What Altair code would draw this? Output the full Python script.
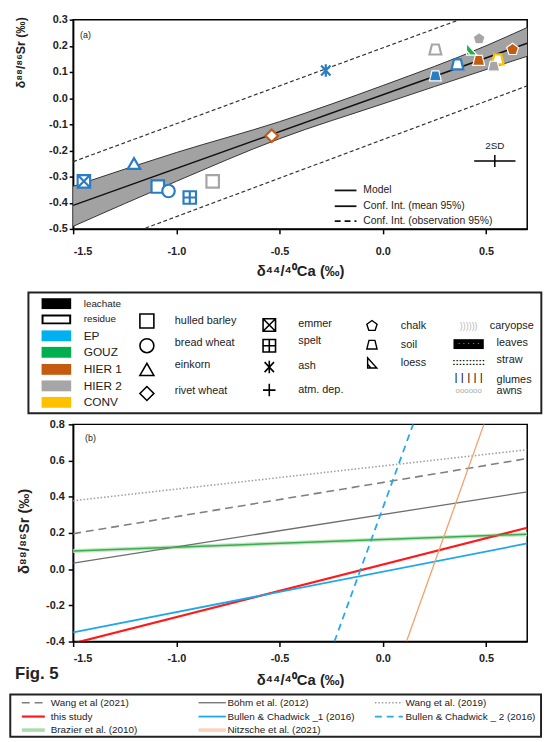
import altair as alt
import pandas as pd

FONT = "Liberation Sans"
INK = "#222222"

# ---------------- panel (a) data ----------------
A_BAND_X = [-1.5, -1.0, -0.5, 0.0, 0.5, 0.7]
A_BAND_LO = [-0.49, -0.318, -0.155, -0.022, 0.109, 0.16]
A_BAND_HI = [-0.337, -0.208, -0.09, 0.048, 0.2, 0.27]
A_LINE_X = [-1.5, 0.7]
A_MODEL_Y = [-0.41, 0.21]
A_OBS_HI_Y = [-0.243, 0.395]
A_OBS_LO_Y = [-0.60, 0.047]

PT_X = [-1.448, -1.205, -1.09, -1.038, -0.935, -0.824, -0.538, -0.276, 0.255, 0.255,
        0.362, 0.43, 0.467, 0.465, 0.557, 0.538, 0.629]
PT_Y = [-0.318, -0.25, -0.338, -0.355, -0.38, -0.318, -0.144, 0.106, 0.186, 0.085,
        0.129, 0.186, 0.227, 0.144, 0.148, 0.122, 0.186]
PT_TYPE = ["emmer", "einkorn", "hulled barley", "bread wheat", "spelt", "hulled barley",
           "rivet wheat", "ash", "soil", "soil", "soil", "loess", "chalk", "soil", "soil",
           "soil", "chalk"]
PT_SITE = ["EP", "EP", "EP", "EP", "EP", "HIER 2", "HIER 1", "EP", "HIER 2", "EP", "EP",
           "GOUZ", "HIER 2", "HIER 1", "CONV", "HIER 2", "HIER 1"]
PT_FRAC = ["residue", "residue", "residue", "residue", "residue", "residue", "residue",
           "residue", "residue", "leachate", "residue", "leachate", "leachate", "leachate",
           "residue", "leachate", "leachate"]

SD_X = [0.543]
SD_Y = [-0.24]
SD_DX = [0.1]
SD_DY = [0.023]

X_TICKS = [-1.5, -1.0, -0.5, 0.0, 0.5]
YA_TICKS = [-0.5, -0.4, -0.3, -0.2, -0.1, 0.0, 0.1, 0.2, 0.3]
YB_TICKS = [-0.4, -0.2, 0.0, 0.2, 0.4, 0.6, 0.8]
X_TITLE = "δ⁴⁴/⁴⁰Ca (‰)"
Y_TITLE = "δ⁸⁸/⁸⁶Sr (‰)"

# ---------------- panel (b) data ----------------
B_SERIES = ["Wang et al (2021)", "Böhm et al. (2012)", "Wang et al. (2019)", "this study",
            "Bullen & Chadwick _1 (2016)", "Bullen & Chadwick _ 2 (2016)",
            "Brazier et al. (2010)", "Nitzsche et al. (2021)"]
B_X0 = [-1.5, -1.5, -1.5, -1.5, -1.5, -0.234, -1.5, 0.115]
B_Y0 = [0.196, 0.033, 0.378, -0.41, -0.349, -0.4, 0.10, -0.4]
B_X1 = [0.7, 0.7, 0.7, 0.7, 0.7, 0.147, 0.7, 0.49]
B_Y1 = [0.611, 0.427, 0.66, 0.229, 0.142, 0.8, 0.193, 0.8]

# ---------------- legend contents ----------------
SITES = ["EP", "GOUZ", "HIER 1", "HIER 2", "CONV"]
SITE_PT_COLORS = ["#2a7cc4", "#1fae4b", "#c55a11", "#a6a6a6", "#ffc000"]
SW_LABELS = ["leachate", "residue", "EP", "GOUZ", "HIER 1", "HIER 2", "CONV"]
SW_COLORS = ["#000000", "#ffffff", "#00b0f0", "#00b050", "#c55a11", "#a6a6a6", "#ffc000"]
COL2 = ["hulled barley", "bread wheat", "einkorn", "rivet wheat"]
COL3 = ["emmer", "spelt", "ash", "atm. dep."]
COL4 = ["chalk", "soil", "loess"]
COL5 = ["caryopse", "leaves", "straw", "glumes", "awns"]
A_LEG = ["Model", "Conf. Int. (mean 95%)", "Conf. Int. (observation 95%)"]

EMMER = "M-1,-1L1,-1L1,1L-1,1Z M-1,-1L1,1 M1,-1L-1,1"
SPELT = "M-1,-1L1,-1L1,1L-1,1Z M0,-1L0,1 M-1,0L1,0"
ASH = "M0,-1L0,1 M-0.75,-0.8L0.75,0.8 M0.75,-0.8L-0.75,0.8"
PLUS = "M0,-1L0,1 M-1,0L1,0"
PENT = "M0,-1L0.95,-0.31L0.59,0.81L-0.59,0.81L-0.95,-0.31Z"
TRAP = "M-0.55,-0.8L0.55,-0.8L0.95,0.8L-0.95,0.8Z"
LOESS = "M-0.8,-1L-0.8,0.9L0.9,0.9Z M-0.8,0.2L-0.2,0.9"
TYPES = ["hulled barley", "bread wheat", "einkorn", "rivet wheat", "emmer", "spelt", "ash",
         "atm. dep.", "chalk", "soil", "loess"]
SHAPES = ["square", "circle", "triangle-up", "diamond", EMMER, SPELT, ASH, PLUS, PENT, TRAP, LOESS]
SHAPE_OF = dict(zip(TYPES, SHAPES))

ONE = pd.DataFrame({"k": [0]})


def vtext(x, y, s, size=10, color=INK, weight="normal", align="left"):
    return alt.Chart(ONE).mark_text(text=s, fontSize=size, color=color, fontWeight=weight,
                                    align=align, baseline="middle", font=FONT).encode(
        x=alt.value(x), y=alt.value(y))


def vrule(x1, x2, y, color, width=1.5, dash=None):
    kw = dict(color=color, strokeWidth=width)
    if dash:
        kw["strokeDash"] = dash
    return alt.Chart(ONE).mark_rule(**kw).encode(x=alt.value(x1), x2=alt.value(x2), y=alt.value(y))


def vrect(x1, x2, y1, y2, fill, stroke=None, sw=0, fo=1):
    kw = dict(fill=fill, fillOpacity=fo)
    if stroke:
        kw.update(stroke=stroke, strokeWidth=sw)
    return alt.Chart(ONE).mark_rect(**kw).encode(x=alt.value(x1), x2=alt.value(x2),
                                                 y=alt.value(y1), y2=alt.value(y2))


def vsym(x, y, shape, size, stroke="black", sw=1.5):
    return alt.Chart(ONE).mark_point(shape=shape, size=size, stroke=stroke, strokeWidth=sw,
                                     filled=False, opacity=1).encode(x=alt.value(x), y=alt.value(y))


LBL = "replace(format(datum.value, '.1f'), '\u2212', '-')"
xs = alt.Scale(domain=[-1.5, 0.7], nice=False, zero=False)

# ================= panel (a) =================
ysa = alt.Scale(domain=[-0.5, 0.3], nice=False, zero=False)
ax_ax = alt.Axis(values=X_TICKS, labelExpr=LBL, title=X_TITLE, tickSize=5, labelPadding=12,
                 titleY=42, titleBaseline="middle")
ax_ay = alt.Axis(values=YA_TICKS, labelExpr=LBL, title=Y_TITLE, tickSize=4, labelPadding=2,
                 titleX=-53, titleY=33, titleBaseline="middle", titleAlign="center",
                 titleFontSize=12.5)


def XA(f):
    return alt.X(f, type="quantitative", scale=xs, axis=ax_ax)


def YA(f):
    return alt.Y(f, type="quantitative", scale=ysa, axis=ax_ay)


band_df = pd.DataFrame({"x": A_BAND_X, "lo": A_BAND_LO, "hi": A_BAND_HI})
line_df = pd.DataFrame({"x": A_LINE_X, "m": A_MODEL_Y, "oh": A_OBS_HI_Y, "ol": A_OBS_LO_Y})
pts_df = pd.DataFrame({"x": PT_X, "y": PT_Y, "type": PT_TYPE, "site": PT_SITE, "frac": PT_FRAC})
sd_df = pd.DataFrame({"x": SD_X, "y": SD_Y, "dx": SD_DX, "dy": SD_DY})

shape_scale = alt.Scale(domain=TYPES, range=SHAPES)
site_scale = alt.Scale(domain=SITES, range=SITE_PT_COLORS)

a_layers = [
    alt.Chart(band_df).mark_area(color="#a2a2a2", opacity=1, interpolate="monotone").encode(
        x=XA("x"), y=YA("lo"), y2="hi:Q"),
    alt.Chart(band_df).mark_line(color="#333333", strokeWidth=1, interpolate="monotone").encode(
        x=XA("x"), y=YA("lo")),
    alt.Chart(band_df).mark_line(color="#333333", strokeWidth=1, interpolate="monotone").encode(
        x=XA("x"), y=YA("hi")),
    alt.Chart(line_df).mark_line(color="#111111", strokeWidth=1.5).encode(x=XA("x"), y=YA("m")),
    alt.Chart(line_df).mark_line(color="#333333", strokeWidth=1.2, strokeDash=[4, 2.5], clip=True).encode(
        x=XA("x"), y=YA("oh")),
    alt.Chart(line_df).mark_line(color="#333333", strokeWidth=1.2, strokeDash=[4, 2.5], clip=True).encode(
        x=XA("x"), y=YA("ol")),
    alt.Chart(pts_df).transform_filter("datum.frac == 'residue'").mark_point(
        filled=True, fill="white", strokeWidth=2.2, size=160, opacity=1).encode(
        x=XA("x"), y=YA("y"),
        shape=alt.Shape("type:N", scale=shape_scale, legend=None),
        stroke=alt.Stroke("site:N", scale=site_scale, legend=None)),
    alt.Chart(pts_df).transform_filter("datum.frac == 'leachate'").mark_point(
        filled=True, stroke="white", strokeWidth=1.2, size=160, opacity=1).encode(
        x=XA("x"), y=YA("y"),
        shape=alt.Shape("type:N", scale=shape_scale, legend=None),
        fill=alt.Fill("site:N", scale=site_scale, legend=None)),
    alt.Chart(sd_df).transform_calculate(x1="datum.x - datum.dx", x2="datum.x + datum.dx").mark_rule(
        color="black", strokeWidth=1.5).encode(x=XA("x1:Q"), x2="x2:Q", y=YA("y")),
    alt.Chart(sd_df).transform_calculate(y1="datum.y - datum.dy", y2="datum.y + datum.dy").mark_rule(
        color="black", strokeWidth=1.5).encode(x=XA("x"), y=YA("y1:Q"), y2="y2:Q"),
    alt.Chart(sd_df).mark_text(text="2SD", dy=-15, fontSize=10, font=FONT, color=INK).encode(
        x=XA("x"), y=YA("y")),
    vtext(7, 16, "(a)", size=9),
]
leg_y = [173, 189, 204]
leg_dash = [None, None, [6, 4]]
leg_w = [1.8, 1.8, 1.8]
for lab, yy, dd, ww in zip(A_LEG, leg_y, leg_dash, leg_w):
    a_layers.append(vrule(265, 287, yy, "#111111", ww, dd))
    a_layers.append(vtext(294, yy, lab, size=10.5))

A = alt.layer(*a_layers).properties(width=460, height=212)

# ================= legend box =================
l_layers = [vrect(-45.3, 474.3, 64.3, 186.7, "white", "#222222", 2, fo=0)]
sw_y = [75.7, 91.7, 108.3, 125, 142.3, 159, 175.7]
for i, (lab, col, yy) in enumerate(zip(SW_LABELS, SW_COLORS, sw_y)):
    if lab == "residue":
        l_layers.append(vrect(-31, -3, yy - 4, yy + 4, col, "black", 2))
    else:
        l_layers.append(vrect(-32, -2, yy - 5.5, yy + 5.5, col))
    l_layers.append(vtext(10.7, yy, lab, size=10 if i < 2 else 12))

c2_sym_y = [93.3, 118.3, 142.3, 166.7]
c2_lab_y = [93, 116, 138.3, 164.3]
for lab, sy, ly in zip(COL2, c2_sym_y, c2_lab_y):
    l_layers.append(vsym(74.7, sy, SHAPE_OF[lab], 200, sw=1.6))
    l_layers.append(vtext(103, ly, lab, size=11))

c3_sym_y = [97.3, 118.3, 140, 163.3]
c3_lab_y = [96, 114, 139.3, 163.3]
for lab, sy, ly in zip(COL3, c3_sym_y, c3_lab_y):
    l_layers.append(vsym(198.7, sy, SHAPE_OF[lab], 160, sw=1.6))
    l_layers.append(vtext(228, ly, lab, size=11))

c4_y = [98.3, 117.3, 136]
for lab, yy in zip(COL4, c4_y):
    l_layers.append(vsym(302.7, yy, SHAPE_OF[lab], 120, sw=1.4))
    l_layers.append(vtext(332, yy, lab, size=11))

c5_sw_y = [98.3, 116.7, 135, 150.3, 164.3]
c5_lab_y = [98.3, 116, 133.3, 152.7, 164.3]
c5_lab_x = [422, 429, 429, 429, 429]
l_layers += [
    vtext(400.7, c5_sw_y[0], "))))))", size=9, color="#bbbbbb", align="center"),
    vrect(385.3, 416, c5_sw_y[1] - 5, c5_sw_y[1] + 5, "black"),
    vtext(400.7, c5_sw_y[1], "· · · · ·", size=8, color="#dddddd", align="center"),
    vtext(400.7, c5_sw_y[2], "::::::::::", size=10, color="black", weight="bold", align="center"),
    vtext(400.7, c5_sw_y[3], "| | | | |", size=12, color="#111111", align="center"),
    vtext(400.7, c5_sw_y[4], "oooooo", size=8, color="#aaaaaa", align="center"),
]
for lab, xx, yy in zip(COL5, c5_lab_x, c5_lab_y):
    l_layers.append(vtext(xx, yy, lab, size=11))

L = alt.layer(*l_layers).properties(width=460, height=198,
                                    view=alt.ViewBackground(stroke="transparent"))

# ================= panel (b) =================
ysb = alt.Scale(domain=[-0.4, 0.8], nice=False, zero=False)
ax_bx = alt.Axis(values=X_TICKS, labelExpr=LBL, title=X_TITLE, tickSize=5, labelPadding=6.5,
                 titleY=39, titleBaseline="middle")
ax_by = alt.Axis(values=YB_TICKS, labelExpr=LBL, title=Y_TITLE, tickSize=5, labelPadding=4,
                 titleX=-50, titleY=108, titleBaseline="middle", titleAlign="center")

B_STYLE = {
    "Wang et al (2021)": ("#7f7f7f", 1.6, [8, 5]),
    "Böhm et al. (2012)": ("#6e6e6e", 1.3, None),
    "Wang et al. (2019)": ("#a0a0a0", 1.6, [1.5, 2]),
    "this study": ("#ff1a1a", 2.2, None),
    "Bullen & Chadwick _1 (2016)": ("#1ea7ec", 1.8, None),
    "Bullen & Chadwick _ 2 (2016)": ("#22aaf0", 1.8, [7, 5]),
    "Brazier et al. (2010)": ("#3aad4e", 1.5, None),
    "Nitzsche et al. (2021)": ("#f4a06c", 1.3, None),
}
LEG_COLOR = {
    "Brazier et al. (2010)": "#a9dca9",
    "Nitzsche et al. (2021)": "#f9d2bc",
}

rows = []
for s, x0, y0, x1, y1 in zip(B_SERIES, B_X0, B_Y0, B_X1, B_Y1):
    rows.append({"series": s, "x": x0, "y": y0})
    rows.append({"series": s, "x": x1, "y": y1})
b_df = pd.DataFrame(rows)

b_layers = []
# light halo under the Brazier line
b_layers.append(alt.Chart(b_df).transform_filter(alt.datum.series == "Brazier et al. (2010)").mark_line(
    color="#c2e6c2", strokeWidth=4, clip=True).encode(
    x=alt.X("x:Q", scale=xs, axis=ax_bx), y=alt.Y("y:Q", scale=ysb, axis=ax_by)))
for s in B_SERIES:
    col, w, dash = B_STYLE[s]
    kw = dict(color=col, strokeWidth=w, clip=True)
    if dash:
        kw["strokeDash"] = dash
    b_layers.append(alt.Chart(b_df).transform_filter(alt.datum.series == s).mark_line(**kw).encode(
        x=alt.X("x:Q", scale=xs, axis=ax_bx), y=alt.Y("y:Q", scale=ysb, axis=ax_by)))
b_layers.append(vtext(12, 14, "(b)", size=9))
B = alt.layer(*b_layers).properties(width=460, height=220)

# ================= bottom legend =================
f_layers = [vrect(-63.7, 474, 53.7, 96.5, "white", "#222222", 2, fo=0),
            vtext(-59, 33, "Fig. 5", size=17, weight="bold")]
col_line = [(-52, -28.7, -22.7), (127, 154.7, 156.3), (305.7, 334, 336.7)]
row_y = [62, 76, 89.7]
order = [(0, 0, "Wang et al (2021)"), (1, 0, "Böhm et al. (2012)"), (2, 0, "Wang et al. (2019)"),
         (0, 1, "this study"), (1, 1, "Bullen & Chadwick _1 (2016)"),
         (2, 1, "Bullen & Chadwick _ 2 (2016)"),
         (0, 2, "Brazier et al. (2010)"), (1, 2, "Nitzsche et al. (2021)")]
for c, r, s in order:
    col, w, dash = B_STYLE[s]
    col = LEG_COLOR.get(s, col)
    if s in LEG_COLOR:
        w = 3.5
    x1, x2, tx = col_line[c]
    f_layers.append(vrule(x1, x2, row_y[r], col, w, dash))
    f_layers.append(vtext(tx, row_y[r], s, size=10))

F = alt.layer(*f_layers).properties(width=460, height=97,
                                    view=alt.ViewBackground(stroke="transparent"))

chart = alt.vconcat(A, L, B, F, spacing=0, bounds="flush").properties(padding=0).configure_view(
    stroke="black", strokeWidth=1.5).configure_axis(
    grid=False, domainColor="black", domainWidth=1.5, tickColor="black", tickWidth=1.5,
    labelFont=FONT, labelFontSize=11, labelFontWeight="bold", labelColor=INK,
    titleFont=FONT, titleFontSize=15, titleFontWeight="bold", titleColor=INK)

chart.save("out.html", embed_options={"renderer": "svg", "actions": False})
